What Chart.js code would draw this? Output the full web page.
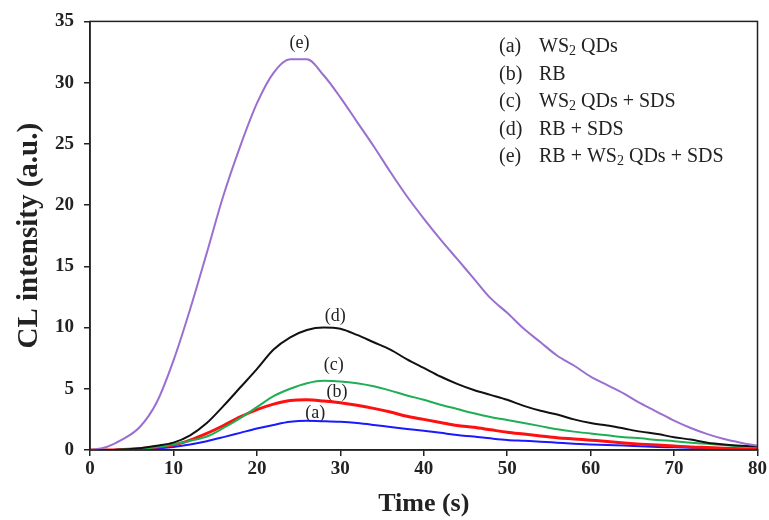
<!DOCTYPE html>
<html>
<head>
<meta charset="utf-8">
<script src="https://cdn.jsdelivr.net/npm/chart.js@4"></script>
<style>
  html, body { margin: 0; padding: 0; background: #fff; }
  #wrap { width: 769px; height: 520px; }
</style>
</head>
<body>
<div id="wrap"><canvas id="cl_chart"></canvas></div>
<script>
// time axis (s)
const times = [0, 2, 4, 6, 8, 10, 12, 14, 16, 18, 20, 22, 24, 26, 28, 30, 32, 34, 36, 38, 40,
  42, 44, 46, 48, 50, 52, 54, 56, 58, 60, 62, 64, 66, 68, 70, 72, 74, 76, 78, 80];

// (a) WS2 QDs
const ws2 = [0, 0, 0.02, 0.05, 0.12, 0.25, 0.45, 0.72, 1.05, 1.4, 1.75, 2.05, 2.3, 2.38, 2.35, 2.3, 2.2, 2.05, 1.88, 1.72, 1.57,
  1.4, 1.22, 1.1, 0.95, 0.82, 0.75, 0.68, 0.6, 0.52, 0.45, 0.4, 0.36, 0.3, 0.25, 0.22, 0.18, 0.15, 0.12, 0.1, 0.08];
// (b) RB
const rb = [0, 0, 0.05, 0.1, 0.25, 0.4, 0.8, 1.35, 2.0, 2.7, 3.3, 3.75, 4.05, 4.1, 4.0, 3.85, 3.65, 3.4, 3.1, 2.75, 2.5,
  2.25, 2.0, 1.85, 1.65, 1.45, 1.3, 1.15, 1.0, 0.9, 0.8, 0.7, 0.58, 0.48, 0.4, 0.33, 0.25, 0.2, 0.15, 0.1, 0.05];
// (c) WS2 QDs + SDS
const ws2_sds = [0, 0, 0.05, 0.1, 0.25, 0.45, 0.75, 1.1, 1.8, 2.6, 3.5, 4.4, 5.0, 5.45, 5.65, 5.6, 5.45, 5.2, 4.85, 4.45, 4.1,
  3.7, 3.35, 3.0, 2.7, 2.45, 2.2, 1.95, 1.7, 1.5, 1.35, 1.2, 1.05, 0.95, 0.82, 0.72, 0.6, 0.5, 0.4, 0.3, 0.25];
// (d) RB + SDS
const rb_sds = [0, 0, 0.05, 0.15, 0.35, 0.6, 1.2, 2.2, 3.6, 5.1, 6.6, 8.2, 9.2, 9.8, 10.0, 9.9, 9.4, 8.8, 8.2, 7.4, 6.7,
  6.0, 5.4, 4.9, 4.5, 4.1, 3.6, 3.2, 2.9, 2.5, 2.2, 2.0, 1.75, 1.5, 1.3, 1.05, 0.85, 0.6, 0.45, 0.35, 0.3];
// (e) RB + WS2 QDs + SDS
const rb_ws2_sds = [0, 0.25, 0.9, 1.9, 3.9, 7.3, 11.5, 16.1, 20.8, 24.8, 28.3, 30.8, 31.9, 31.9, 30.6, 28.8, 26.8, 24.8, 22.7, 20.7, 18.9,
  17.2, 15.6, 14.0, 12.4, 11.2, 9.9, 8.8, 7.7, 6.9, 6.0, 5.3, 4.6, 3.8, 3.1, 2.4, 1.8, 1.3, 0.9, 0.6, 0.35];

const x_ticks = [0, 10, 20, 30, 40, 50, 60, 70, 80];
const y_ticks = [0, 5, 10, 15, 20, 25, 30, 35];

// legend lines: parts with sub flag for the subscript 2
const legend_rows = [
  ['(a)', [['WS'], ['2', 1], [' QDs']]],
  ['(b)', [['RB']]],
  ['(c)', [['WS'], ['2', 1], [' QDs + SDS']]],
  ['(d)', [['RB + SDS']]],
  ['(e)', [['RB + WS'], ['2', 1], [' QDs + SDS']]]
];

// curve tags placed in data units
const tag_text = ['(a)', '(b)', '(c)', '(d)', '(e)'];
const tag_t = [27.0, 29.6, 29.2, 29.4, 25.1];
const tag_v = [3.0, 4.75, 6.9, 10.9, 33.2];

const serif = '"Liberation Serif", "Times New Roman", serif';

function mk(data, color, w) {
  return {
    data: times.map((t, i) => ({ x: t, y: data[i] })),
    borderColor: color,
    borderWidth: w,
    pointRadius: 0,
    fill: false,
    cubicInterpolationMode: 'monotone'
  };
}

// frame, legend text and curve tags
const extras = {
  id: 'extras',
  afterDraw(chart) {
    const c = chart.ctx;
    const a = chart.chartArea;
    const xs = chart.scales.x, ys = chart.scales.y;
    c.save();
    c.strokeStyle = '#222';
    c.lineWidth = 1.5;
    c.strokeRect(a.left, a.top, a.right - a.left, a.bottom - a.top);

    c.fillStyle = '#222';
    c.textBaseline = 'middle';
    c.textAlign = 'left';
    legend_rows.forEach((row, i) => {
      const y = 47 + i * 27.5;
      c.font = '20px ' + serif;
      c.fillText(row[0], 499, y);
      let x = 539;
      row[1].forEach(p => {
        if (p[1]) {
          c.font = '14px ' + serif;
          c.fillText(p[0], x, y + 4);
        } else {
          c.font = '20px ' + serif;
          c.fillText(p[0], x, y);
        }
        x += c.measureText(p[0]).width;
      });
    });

    c.font = '18px ' + serif;
    c.textAlign = 'center';
    tag_text.forEach((s, i) => {
      c.fillText(s, xs.getPixelForValue(tag_t[i]), ys.getPixelForValue(tag_v[i]));
    });
    c.restore();
  }
};

new Chart(document.getElementById('cl_chart'), {
  type: 'line',
  data: {
    datasets: [
      mk(rb_ws2_sds, '#9a6fd0', 2),
      mk(rb_sds, '#111111', 2),
      mk(ws2_sds, '#1fae55', 2),
      mk(rb, '#ff1010', 3),
      mk(ws2, '#1a1aff', 2)
    ]
  },
  options: {
    responsive: true,
    maintainAspectRatio: false,
    animation: false,
    layout: { padding: { left: 0, top: 20, right: 10, bottom: 0 } },
    plugins: { legend: { display: false }, tooltip: { enabled: false } },
    scales: {
      x: {
        type: 'linear',
        min: 0, max: 80,
        afterFit(s) { s.height = 70; },
        afterBuildTicks(s) { s.ticks = x_ticks.map(v => ({ value: v })); },
        grid: { drawOnChartArea: false, drawTicks: true, tickLength: 6, color: '#222', lineWidth: 1.5 },
        border: { display: true, color: '#222', width: 1.5 },
        ticks: { color: '#222', font: { family: serif, size: 19, weight: 'bold' }, padding: 2, maxRotation: 0 },
        title: { display: true, text: 'Time (s)', color: '#222', font: { family: serif, size: 26, weight: 'bold' }, padding: { top: 0, bottom: 0 } }
      },
      y: {
        min: 0, max: 35,
        afterFit(s) { s.width = 90; },
        afterBuildTicks(s) { s.ticks = y_ticks.map(v => ({ value: v })); },
        grid: { drawOnChartArea: false, drawTicks: true, tickLength: 6, color: '#222', lineWidth: 1.5 },
        border: { display: true, color: '#222', width: 1.5 },
        ticks: { color: '#222', font: { family: serif, size: 19, weight: 'bold' }, padding: 10 },
        title: { display: true, text: 'CL intensity (a.u.)', color: '#222', font: { family: serif, size: 29, weight: 'bold' }, padding: { top: 12, bottom: 0 } }
      }
    }
  },
  plugins: [extras]
});
</script>
</body>
</html>
